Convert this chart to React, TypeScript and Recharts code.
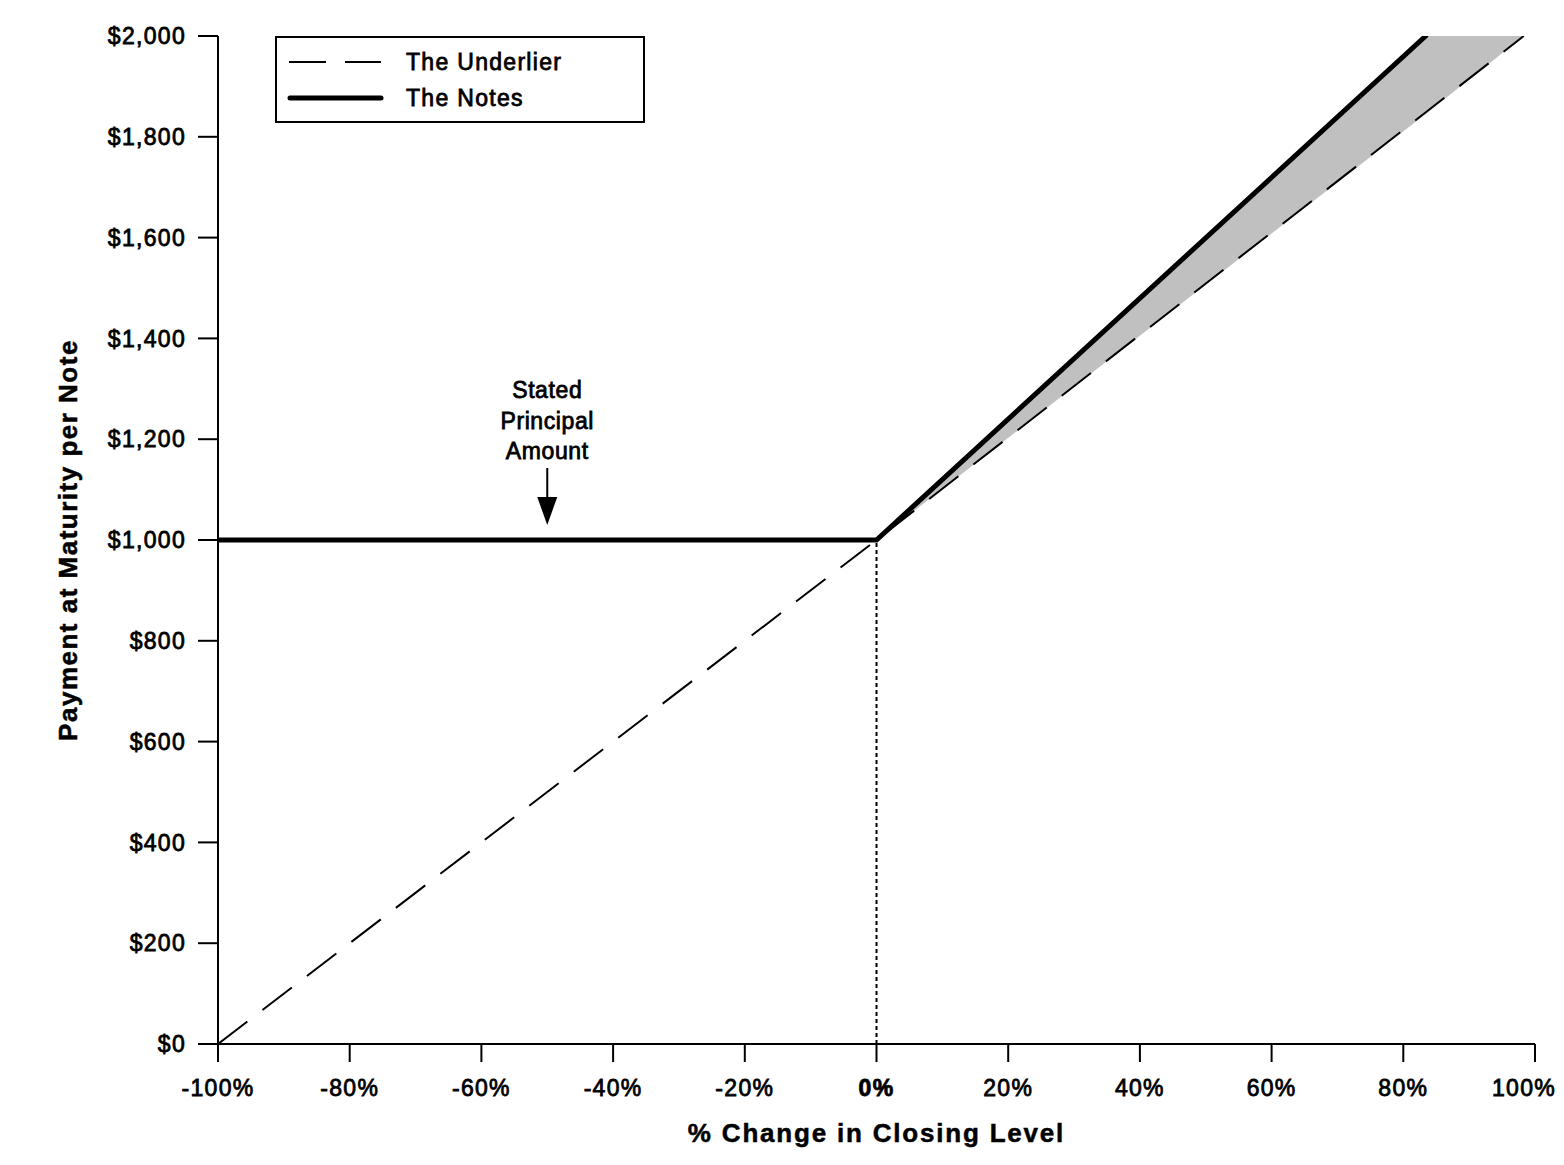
import {
  ComposedChart,
  Line,
  Area,
  XAxis,
  YAxis,
  ReferenceLine,
  ReferenceDot,
  Label,
} from "recharts";

const FONT = "'Liberation Sans', Arial, Helvetica, sans-serif";

// x = % change in closing level, y = payment at maturity per note ($)
const xTicks = [-100, -80, -60, -40, -20, 0, 20, 40, 60, 80, 100];
const yTicks = [0, 200, 400, 600, 800, 1000, 1200, 1400, 1600, 1800, 2000];

const underlierX = [-100, 0, 98.3];
const underlierY = [0, 1000, 2000];

const notesX = [-100, 0, 83.4];
const notesY = [1000, 1000, 2000];

// grey band between the underlier and the (capped) notes
const bandX = [0, 83.4, 98.3];
const bandLow = [1000, 1845, 2000];
const bandHigh = [1000, 2000, 2000];

const underlierData = underlierX.map((x, i) => ({ x, underlier: underlierY[i] }));
const notesData = notesX.map((x, i) => ({ x, notes: notesY[i] }));
const bandData = bandX.map((x, i) => ({ x, band: [bandLow[i], bandHigh[i]] }));

const fmtPct = (v: number) => `${v}%`;
const fmtUsd = (v: number) => `$${v.toLocaleString("en-US")}`;

// the source uses a wide, heavy Helvetica; regular weight with a thin outline gets close
const txt = {
  fontFamily: FONT,
  fontSize: 23,
  letterSpacing: 1.3,
  fill: "#000",
  stroke: "#000",
  strokeWidth: 0.8,
};
const title = {
  fontFamily: FONT,
  fontSize: 26,
  fontWeight: "bold" as const,
  letterSpacing: 1.8,
  fill: "#000",
  stroke: "#000",
  strokeWidth: 0.5,
};

function XTick({ x, y, payload }: any) {
  // last label is pulled in so it stays on the page
  const dx = payload.value === 100 ? -11 : 0;
  return (
    <text
      x={x + dx}
      y={y}
      dy="0.71em"
      textAnchor="middle"
      {...txt}
      fontWeight={payload.value === 0 ? "bold" : "normal"}
    >
      {fmtPct(payload.value)}
    </text>
  );
}

function YTick({ x, y, payload }: any) {
  return (
    <text x={x} y={y} dy="0.355em" textAnchor="end" {...txt}>
      {fmtUsd(payload.value)}
    </text>
  );
}

function LegendBox() {
  return (
    <svg
      width={370}
      height={87}
      style={{ position: "absolute", left: 267, top: 28, display: "block" }}
    >
      <rect x={1} y={1} width={368} height={85} fill="#fff" stroke="#000" strokeWidth={2} />
      <line x1={14} y1={26} x2={106} y2={26} stroke="#000" strokeWidth={2} strokeDasharray="37 19" />
      <text x={131} y={26} dy="0.355em" {...txt}>
        The Underlier
      </text>
      <line x1={15} y1={62} x2={106} y2={62} stroke="#000" strokeWidth={5} strokeLinecap="round" />
      <text x={131} y={62} dy="0.355em" {...txt}>
        The Notes
      </text>
    </svg>
  );
}

function PrincipalArrow({ cx, cy }: any) {
  const lines = ["Stated", "Principal", "Amount"];
  return (
    <g>
      {lines.map((t, i) => (
        <text key={t} x={cx} y={cy - 142 + i * 30.5} textAnchor="middle" {...txt} letterSpacing={0.6}>
          {t}
        </text>
      ))}
      <line x1={cx} y1={cy - 72} x2={cx} y2={cy - 42} stroke="#000" strokeWidth={2} />
      <polygon points={`${cx - 10},${cy - 43} ${cx + 10},${cy - 43} ${cx},${cy - 15}`} fill="#000" />
    </g>
  );
}

export default function App() {
  return (
    <div style={{ position: "relative", width: 1556, height: 1157 }}>
      <ComposedChart
        width={1556}
        height={1157}
        margin={{ top: 28, right: 29, bottom: 0, left: 60 }}
      >
        <XAxis
          type="number"
          dataKey="x"
          domain={[-100, 100]}
          ticks={xTicks}
          interval={0}
          allowDataOverflow
          height={121}
          stroke="#000"
          strokeWidth={2}
          tickSize={18}
          tickMargin={18}
          tick={<XTick />}
          tickLine={{ stroke: "#000", strokeWidth: 2 }}
        >
          <Label
            content={({ viewBox }: any) => (
              <text
                x={viewBox.x + viewBox.width / 2}
                y={viewBox.y + 98}
                textAnchor="middle"
                {...title}
              >
                % Change in Closing Level
              </text>
            )}
          />
        </XAxis>
        <YAxis
          type="number"
          domain={[0, 2000]}
          ticks={yTicks}
          interval={0}
          allowDataOverflow
          width={150}
          stroke="#000"
          strokeWidth={2}
          tickSize={20}
          tickMargin={12}
          tick={<YTick />}
          tickLine={{ stroke: "#000", strokeWidth: 2 }}
        >
          <Label
            content={({ viewBox }: any) => {
              const cx = viewBox.x + 9;
              const cy = viewBox.y + viewBox.height / 2;
              return (
                <text
                  x={cx}
                  y={cy}
                  transform={`rotate(-90, ${cx}, ${cy})`}
                  textAnchor="middle"
                  {...title}
                  letterSpacing={1.5}
                >
                  Payment at Maturity per Note
                </text>
              );
            }}
          />
        </YAxis>
        <Area
          data={bandData}
          dataKey="band"
          type="linear"
          stroke="none"
          fill="#c0c0c0"
          fillOpacity={1}
          isAnimationActive={false}
          legendType="none"
        />
        <ReferenceLine
          segment={[
            { x: 0, y: 0 },
            { x: 0, y: 1000 },
          ]}
          stroke="#000"
          strokeWidth={2}
          strokeDasharray="4 3"
        />
        <Line
          data={underlierData}
          dataKey="underlier"
          type="linear"
          stroke="#000"
          strokeWidth={2}
          strokeDasharray="37 19"
          dot={false}
          isAnimationActive={false}
        />
        <Line
          data={notesData}
          dataKey="notes"
          type="linear"
          stroke="#000"
          strokeWidth={5}
          strokeLinecap="round"
          dot={false}
          isAnimationActive={false}
        />
        <ReferenceDot x={-50} y={1000} r={0} shape={<PrincipalArrow />} />
      </ComposedChart>
      <LegendBox />
    </div>
  );
}
